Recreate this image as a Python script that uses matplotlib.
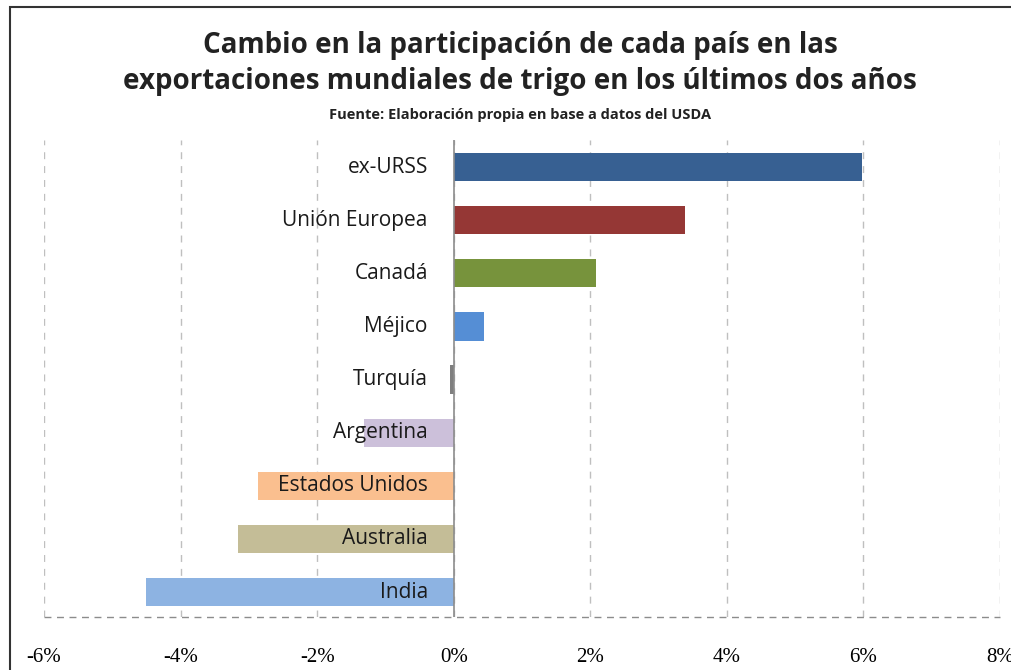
import matplotlib.pyplot as plt
from matplotlib.patches import Rectangle
from matplotlib.ticker import FuncFormatter

# data, bottom to top as drawn
paises = ["India", "Australia", "Estados Unidos", "Argentina", "Turquía",
          "Méjico", "Canadá", "Unión Europea", "ex-URSS"]
cambio = [-4.5, -3.16, -2.87, -1.31, -0.05, 0.44, 2.09, 3.39, 5.98]
colores = ["#8DB3E2", "#C4BD97", "#FABF8F", "#CCC0DA", "#7F7F7F",
           "#558ED5", "#77933C", "#953735", "#376092"]
ticks = [-6, -4, -2, 0, 2, 4, 6, 8]

fig = plt.figure(figsize=(10.12, 6.70), dpi=100)
ax = fig.add_axes([44 / 1012, 1 - 617 / 670, 956 / 1012, 477 / 670])

ypos = list(range(len(paises)))
ax.barh(ypos, cambio, height=0.53, color=colores, zorder=2)

ax.set_xlim(-6, 8)
ax.set_ylim(-0.47, 8.51)
ax.set_xticks(ticks)
ax.xaxis.set_major_formatter(FuncFormatter(lambda v, _: f"{v:.0f}%"))
ax.tick_params(axis="x", length=0, pad=22, labelsize=15)
for lab in ax.get_xticklabels():
    lab.set_fontfamily("Liberation Serif")
ax.set_yticks([])

for s in ax.spines.values():
    s.set_visible(False)
for t in ticks:
    ax.axvline(t, color="#BFBFBF", lw=1, ls=(0, (5, 5)), zorder=1)
ax.axhline(-0.47, color="#8C8C8C", lw=1, ls=(0, (5, 4)), zorder=1, clip_on=False)
ax.axvline(0, color="#8C8C8C", lw=1.2, zorder=3)

for y, name in zip(ypos, paises):
    ax.text(-0.38, y, name, ha="right", va="center", fontsize=15,
            fontfamily="Open Sans", color="#1a1a1a", zorder=4)

fig.text(0.514, 1 - 45 / 670, "Cambio en la participación de cada país en las",
         ha="center", va="center", fontsize=20, fontweight="bold",
         fontfamily="Open Sans", color="#222222")
fig.text(0.514, 1 - 82 / 670, "exportaciones mundiales de trigo en los últimos dos años",
         ha="center", va="center", fontsize=20, fontweight="bold",
         fontfamily="Open Sans", color="#222222")
fig.text(0.514, 1 - 115 / 670, "Fuente: Elaboración propia en base a datos del USDA",
         ha="center", va="center", fontsize=10.5, fontweight="bold",
         fontfamily="Open Sans", color="#222222")

# outer chart frame (only top and left edges visible in the crop)
fig.add_artist(Rectangle((10 / 1012, -0.1), 1.2, 1 - 7 / 670 + 0.1,
                         transform=fig.transFigure, fill=False,
                         edgecolor="#333333", lw=1.5))

fig.savefig("out.png", dpi=100)
